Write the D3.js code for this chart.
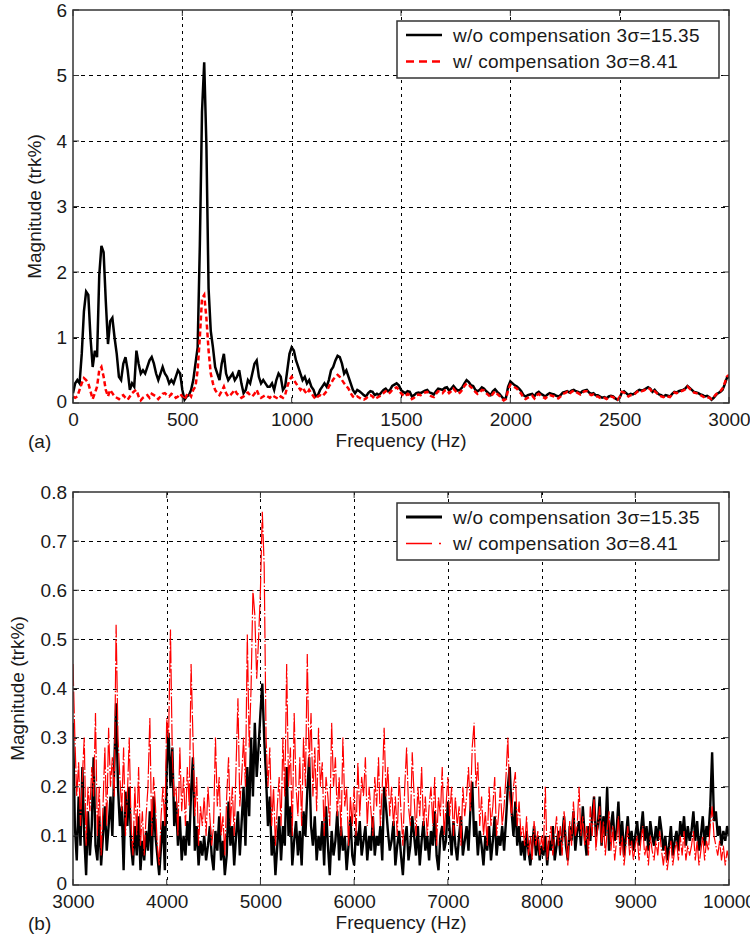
<!DOCTYPE html>
<html><head><meta charset="utf-8">
<script src="https://cdn.jsdelivr.net/npm/d3@7"></script>
<style>
body{margin:0;background:#fff}
text{font-family:Arial,"Liberation Sans",sans-serif;fill:#1a1a1a}
</style>
</head><body>
<svg id="c" width="750" height="941"></svg>
<script>
// ---------- DATA ----------
// Panel (a): 0..3000 Hz, 10 Hz bins
const topStart = 0, topStep = 10;
const topBlack = [
0.15,0.3,0.35,0.3,0.75,1.4,1.7,1.65,1.0,0.55,
0.8,0.7,1.95,2.4,2.3,1.55,0.9,1.25,1.3,1.0,
0.75,0.4,0.35,0.6,0.7,0.5,0.2,0.3,0.25,0.8,
0.6,0.45,0.5,0.45,0.55,0.65,0.7,0.6,0.45,0.35,
0.45,0.55,0.45,0.4,0.3,0.35,0.3,0.4,0.5,0.45,
0.2,0.05,0.1,0.12,0.2,0.35,0.6,0.85,2.4,4.45,
5.2,3.95,1.75,1.1,0.85,0.55,0.45,0.35,0.6,0.75,
0.45,0.35,0.4,0.45,0.35,0.4,0.5,0.3,0.15,0.2,
0.35,0.3,0.45,0.6,0.65,0.4,0.3,0.35,0.3,0.25,
0.25,0.3,0.2,0.35,0.45,0.4,0.2,0.25,0.5,0.75,
0.85,0.8,0.65,0.55,0.45,0.35,0.4,0.3,0.35,0.25,
0.2,0.1,0.12,0.2,0.25,0.3,0.25,0.35,0.5,0.55,
0.65,0.72,0.7,0.6,0.45,0.5,0.4,0.3,0.2,0.15,
0.2,0.18,0.15,0.12,0.1,0.15,0.18,0.17,0.12,0.14,
0.12,0.16,0.2,0.22,0.18,0.2,0.26,0.28,0.3,0.27,
0.2,0.17,0.15,0.18,0.17,0.1,0.12,0.15,0.16,0.15,
0.17,0.19,0.2,0.16,0.15,0.13,0.18,0.22,0.21,0.2,
0.23,0.24,0.19,0.22,0.26,0.22,0.19,0.2,0.24,0.3,
0.35,0.32,0.27,0.26,0.2,0.18,0.2,0.24,0.22,0.18,
0.15,0.12,0.18,0.21,0.17,0.14,0.1,0.06,0.08,0.25,
0.33,0.3,0.27,0.25,0.22,0.18,0.12,0.1,0.12,0.13,
0.14,0.1,0.15,0.17,0.14,0.12,0.1,0.13,0.15,0.14,
0.13,0.11,0.1,0.12,0.16,0.17,0.18,0.16,0.19,0.2,
0.18,0.17,0.15,0.18,0.19,0.2,0.16,0.14,0.15,0.12,
0.12,0.1,0.08,0.09,0.07,0.1,0.11,0.1,0.07,0.05,
0.08,0.16,0.18,0.15,0.12,0.14,0.13,0.15,0.18,0.2,
0.19,0.2,0.22,0.24,0.22,0.17,0.2,0.16,0.13,0.12,
0.1,0.12,0.11,0.1,0.14,0.17,0.16,0.18,0.19,0.2,
0.22,0.26,0.23,0.2,0.17,0.16,0.15,0.13,0.12,0.1,
0.11,0.09,0.05,0.08,0.12,0.15,0.17,0.2,0.28,0.38,
0.4];
const topRed = [
0.1,0.08,0.1,0.2,0.3,0.38,0.35,0.3,0.18,0.06,
0.15,0.25,0.5,0.55,0.4,0.2,0.1,0.2,0.15,0.1,
0.08,0.06,0.1,0.12,0.08,0.05,0.1,0.15,0.18,0.2,
0.1,0.04,0.08,0.1,0.12,0.08,0.14,0.12,0.1,0.06,
0.1,0.14,0.15,0.12,0.1,0.14,0.12,0.08,0.1,0.14,
0.1,0.05,0.12,0.15,0.1,0.2,0.25,0.5,1.0,1.6,
1.65,1.3,0.8,0.45,0.3,0.2,0.15,0.12,0.18,0.25,
0.15,0.1,0.12,0.16,0.2,0.14,0.12,0.08,0.1,0.14,
0.16,0.12,0.1,0.14,0.2,0.12,0.08,0.1,0.12,0.1,
0.08,0.12,0.1,0.08,0.06,0.1,0.08,0.12,0.25,0.35,
0.4,0.35,0.3,0.25,0.2,0.24,0.18,0.14,0.2,0.15,
0.1,0.06,0.1,0.12,0.1,0.14,0.18,0.25,0.3,0.36,
0.4,0.43,0.4,0.35,0.3,0.26,0.22,0.15,0.1,0.08,
0.1,0.08,0.06,0.05,0.07,0.1,0.12,0.1,0.06,0.08,
0.1,0.12,0.15,0.18,0.14,0.16,0.2,0.22,0.24,0.2,
0.15,0.12,0.1,0.14,0.12,0.06,0.08,0.12,0.13,0.12,
0.14,0.16,0.17,0.12,0.1,0.09,0.14,0.18,0.17,0.15,
0.19,0.2,0.15,0.18,0.22,0.18,0.14,0.16,0.2,0.26,
0.3,0.28,0.24,0.22,0.17,0.14,0.16,0.2,0.19,0.15,
0.12,0.09,0.14,0.18,0.14,0.11,0.07,0.04,0.06,0.2,
0.28,0.26,0.24,0.22,0.18,0.14,0.08,0.06,0.08,0.1,
0.11,0.07,0.12,0.14,0.11,0.09,0.07,0.1,0.12,0.11,
0.1,0.08,0.07,0.1,0.14,0.15,0.17,0.14,0.17,0.19,
0.17,0.15,0.13,0.16,0.18,0.18,0.14,0.12,0.13,0.1,
0.1,0.08,0.07,0.08,0.06,0.09,0.1,0.09,0.06,0.05,
0.09,0.17,0.16,0.13,0.1,0.12,0.12,0.14,0.17,0.19,
0.18,0.19,0.21,0.23,0.21,0.16,0.18,0.15,0.12,0.1,
0.09,0.11,0.1,0.09,0.13,0.16,0.15,0.17,0.18,0.19,
0.21,0.25,0.22,0.19,0.16,0.15,0.14,0.12,0.1,0.08,
0.09,0.08,0.06,0.09,0.13,0.16,0.18,0.22,0.3,0.4,
0.43];
const topXTicks = [0,500,1000,1500,2000,2500,3000];
const topYTicks = [0,1,2,3,4,5,6];

// Panel (b): 3000..10000 Hz, 20 Hz bins
const botStart = 3000, botStep = 20;
const botBlack = [
0.33,0.12,0.05,0.18,0.08,0.24,0.1,0.02,0.15,0.06,
0.12,0.26,0.08,0.05,0.14,0.04,0.1,0.16,0.07,0.12,
0.18,0.1,0.24,0.37,0.2,0.12,0.16,0.03,0.19,0.12,
0.2,0.08,0.04,0.12,0.06,0.14,0.03,0.09,0.05,0.11,
0.07,0.15,0.04,0.18,0.1,0.06,0.02,0.08,0.13,0.03,
0.24,0.31,0.2,0.28,0.12,0.17,0.08,0.14,0.05,0.1,
0.06,0.13,0.08,0.19,0.26,0.07,0.12,0.04,0.09,0.06,
0.1,0.05,0.08,0.12,0.06,0.03,0.11,0.07,0.14,0.05,
0.09,0.02,0.06,0.17,0.08,0.12,0.04,0.1,0.15,0.06,
0.13,0.2,0.08,0.24,0.14,0.3,0.18,0.33,0.22,0.28,
0.35,0.41,0.3,0.22,0.12,0.18,0.06,0.1,0.02,0.08,
0.14,0.05,0.12,0.08,0.24,0.1,0.16,0.04,0.09,0.13,
0.06,0.11,0.04,0.15,0.1,0.19,0.26,0.12,0.08,0.14,
0.05,0.1,0.07,0.13,0.04,0.16,0.08,0.02,0.11,0.06,
0.09,0.15,0.05,0.12,0.07,0.1,0.03,0.08,0.14,0.06,
0.04,0.11,0.08,0.13,0.06,0.09,0.12,0.05,0.1,0.07,
0.14,0.06,0.1,0.08,0.12,0.05,0.2,0.16,0.11,0.07,
0.09,0.13,0.04,0.08,0.11,0.06,0.02,0.09,0.12,0.05,
0.08,0.14,0.1,0.06,0.12,0.04,0.09,0.13,0.07,0.1,
0.05,0.11,0.08,0.15,0.06,0.03,0.1,0.12,0.07,0.09,
0.17,0.11,0.06,0.13,0.08,0.05,0.1,0.14,0.06,0.09,
0.12,0.07,0.15,0.21,0.1,0.13,0.06,0.11,0.08,0.04,
0.1,0.07,0.12,0.05,0.09,0.14,0.06,0.1,0.08,0.12,
0.07,0.13,0.2,0.24,0.15,0.1,0.17,0.08,0.12,0.06,
0.09,0.05,0.11,0.07,0.04,0.08,0.12,0.06,0.1,0.05,
0.08,0.06,0.1,0.04,0.09,0.07,0.12,0.05,0.08,0.11,
0.06,0.1,0.14,0.08,0.05,0.12,0.09,0.15,0.07,0.11,
0.13,0.08,0.16,0.1,0.06,0.12,0.09,0.14,0.18,0.1,
0.12,0.18,0.08,0.14,0.1,0.2,0.07,0.12,0.15,0.09,
0.11,0.17,0.08,0.13,0.06,0.1,0.14,0.08,0.11,0.07,
0.1,0.13,0.08,0.11,0.15,0.09,0.12,0.07,0.13,0.1,
0.08,0.12,0.09,0.14,0.11,0.07,0.1,0.05,0.08,0.12,
0.06,0.09,0.11,0.07,0.13,0.1,0.14,0.08,0.12,0.09,
0.11,0.15,0.09,0.13,0.07,0.1,0.14,0.08,0.12,0.1,
0.16,0.27,0.13,0.15,0.1,0.12,0.08,0.11,0.09,0.12,
0.1];
const botRed = [
0.45,0.3,0.18,0.25,0.12,0.22,0.3,0.08,0.2,0.15,
0.24,0.18,0.35,0.1,0.2,0.06,0.16,0.28,0.12,0.32,
0.2,0.26,0.18,0.53,0.3,0.22,0.15,0.28,0.1,0.18,
0.3,0.12,0.06,0.2,0.1,0.24,0.08,0.15,0.06,0.14,
0.2,0.34,0.1,0.22,0.16,0.08,0.04,0.14,0.2,0.12,
0.34,0.3,0.52,0.26,0.18,0.2,0.1,0.28,0.15,0.22,
0.12,0.24,0.16,0.45,0.3,0.14,0.22,0.08,0.16,0.12,
0.18,0.1,0.2,0.14,0.08,0.12,0.3,0.16,0.22,0.1,
0.14,0.06,0.18,0.26,0.12,0.2,0.1,0.24,0.38,0.16,
0.22,0.3,0.2,0.51,0.28,0.4,0.6,0.55,0.42,0.5,
0.6,0.76,0.65,0.3,0.2,0.28,0.12,0.2,0.08,0.16,
0.22,0.12,0.3,0.18,0.45,0.2,0.28,0.1,0.35,0.2,
0.14,0.26,0.12,0.3,0.2,0.47,0.24,0.35,0.18,0.28,
0.15,0.32,0.2,0.25,0.1,0.22,0.18,0.12,0.33,0.2,
0.26,0.14,0.22,0.1,0.3,0.16,0.2,0.08,0.18,0.12,
0.2,0.1,0.25,0.14,0.22,0.18,0.26,0.12,0.2,0.15,
0.1,0.22,0.16,0.26,0.12,0.2,0.32,0.18,0.24,0.14,
0.2,0.12,0.18,0.1,0.22,0.15,0.08,0.2,0.28,0.16,
0.12,0.27,0.18,0.1,0.2,0.14,0.24,0.12,0.18,0.1,
0.16,0.2,0.12,0.22,0.08,0.18,0.14,0.24,0.1,0.16,
0.22,0.14,0.2,0.1,0.18,0.12,0.16,0.08,0.2,0.14,
0.18,0.24,0.15,0.28,0.33,0.2,0.25,0.12,0.18,0.1,
0.15,0.08,0.2,0.12,0.16,0.22,0.1,0.14,0.2,0.12,
0.16,0.22,0.3,0.18,0.14,0.2,0.23,0.12,0.17,0.1,
0.12,0.08,0.14,0.06,0.1,0.05,0.13,0.08,0.11,0.06,
0.1,0.07,0.2,0.05,0.09,0.12,0.06,0.1,0.14,0.08,
0.12,0.06,0.15,0.1,0.04,0.13,0.08,0.17,0.1,0.12,
0.2,0.1,0.14,0.08,0.12,0.06,0.16,0.1,0.18,0.07,
0.12,0.16,0.08,0.13,0.06,0.11,0.15,0.07,0.12,0.05,
0.09,0.14,0.06,0.1,0.04,0.08,0.12,0.06,0.09,0.05,
0.08,0.1,0.05,0.09,0.12,0.06,0.08,0.04,0.1,0.07,
0.05,0.09,0.06,0.11,0.07,0.04,0.08,0.03,0.06,0.09,
0.04,0.07,0.09,0.05,0.1,0.06,0.11,0.05,0.08,0.06,
0.08,0.11,0.05,0.09,0.04,0.07,0.1,0.05,0.09,0.07,
0.12,0.16,0.1,0.08,0.06,0.09,0.05,0.08,0.04,0.07,
0.05];
const botXTicks = [3000,4000,5000,6000,7000,8000,9000,10000];
const botYTicks = [0,0.1,0.2,0.3,0.4,0.5,0.6,0.7,0.8];

const legendLabels = ["w/o compensation 3\u03c3=15.35", "w/ compensation 3\u03c3=8.41"];
const xTitle = "Frequency (Hz)";
const yTitle = "Magnitude (trk%)";

// ---------- DRAW ----------
const svg = d3.select("#c");
const L = 73, R = 729;
const FS = 19;

function toPts(vals, start, step){ return vals.map((v,i)=>({f:start+i*step, v})); }

function panel(o){
  const g = svg.append("g");
  const x = d3.scaleLinear().domain(o.xd).range([L,R]);
  const y = d3.scaleLinear().domain(o.yd).range([o.bottom,o.top]);

  g.append("rect").attr("x",L).attr("y",o.top).attr("width",R-L).attr("height",o.bottom-o.top).attr("fill","#fff");

  // grid
  g.selectAll(".vg").data(o.xt.slice(1,-1)).join("line")
    .attr("x1",d=>Math.round(x(d))+0.5).attr("x2",d=>Math.round(x(d))+0.5)
    .attr("y1",o.top).attr("y2",o.bottom)
    .attr("stroke","#000").attr("stroke-width",1).attr("stroke-dasharray","3,4");
  g.selectAll(".hg").data(o.yt.slice(1,-1)).join("line")
    .attr("x1",L).attr("x2",R)
    .attr("y1",d=>Math.round(y(d))+0.5).attr("y2",d=>Math.round(y(d))+0.5)
    .attr("stroke","#000").attr("stroke-width",1).attr("stroke-dasharray","4,4");

  // clip
  const cid = "clip"+o.id;
  svg.append("clipPath").attr("id",cid).append("rect")
    .attr("x",L).attr("y",o.top).attr("width",R-L).attr("height",o.bottom-o.top);

  const line = d3.line().x(d=>x(d.f)).y(d=>y(d.v));
  o.series.forEach(s=>{
    g.append("path").datum(toPts(s.vals,o.start,o.step))
      .attr("clip-path",`url(#${cid})`)
      .attr("d",line).attr("fill","none")
      .attr("stroke",s.color).attr("stroke-width",s.width)
      .attr("stroke-linejoin","miter")
      .attr("stroke-dasharray",s.dash||null);
  });

  // inner tick marks
  const tl = 6;
  o.xt.forEach(t=>{
    const xx = x(t);
    g.append("line").attr("x1",xx).attr("x2",xx).attr("y1",o.bottom).attr("y2",o.bottom-tl).attr("stroke","#333").attr("stroke-width",1);
    g.append("line").attr("x1",xx).attr("x2",xx).attr("y1",o.top).attr("y2",o.top+tl).attr("stroke","#333").attr("stroke-width",1);
  });
  o.yt.forEach(t=>{
    const yy = y(t);
    g.append("line").attr("x1",L).attr("x2",L+tl).attr("y1",yy).attr("y2",yy).attr("stroke","#333").attr("stroke-width",1);
    g.append("line").attr("x1",R).attr("x2",R-tl).attr("y1",yy).attr("y2",yy).attr("stroke","#333").attr("stroke-width",1);
  });

  // box
  g.append("rect").attr("x",L).attr("y",o.top).attr("width",R-L).attr("height",o.bottom-o.top)
    .attr("fill","none").attr("stroke","#333").attr("stroke-width",1.5);

  // axes labels
  const ax = g.append("g").attr("transform",`translate(0,${o.bottom})`)
    .call(d3.axisBottom(x).tickValues(o.xt).tickSize(0).tickPadding(10).tickFormat(d3.format("d")));
  ax.select(".domain").remove();
  ax.selectAll("text").attr("font-size",FS).attr("font-family","Arial, 'Liberation Sans', sans-serif").attr("fill","#1a1a1a");

  const ay = g.append("g").attr("transform",`translate(${L},0)`)
    .call(d3.axisLeft(y).tickValues(o.yt).tickSize(0).tickPadding(6).tickFormat(o.yfmt));
  ay.select(".domain").remove();
  ay.selectAll("text").attr("font-size",FS).attr("font-family","Arial, 'Liberation Sans', sans-serif").attr("fill","#1a1a1a");
  ay.selectAll(".tick").filter(d=>d===0).select("text").attr("dy","0.22em");

  // titles
  g.append("text").attr("x",(L+R)/2).attr("y",o.bottom+37.5).attr("dy","0.35em")
    .attr("text-anchor","middle").attr("font-size",FS).text(xTitle);
  g.append("text").attr("transform",`translate(${o.ylx},${(o.top+o.bottom)/2}) rotate(-90)`)
    .attr("dy","0.35em").attr("text-anchor","middle").attr("font-size",FS).text(yTitle);
  g.append("text").attr("x",28).attr("y",o.bottom+38.5).attr("dy","0.35em")
    .attr("font-size",FS).text(o.tag);

  // legend
  const lg = g.append("g");
  lg.append("rect").attr("x",397).attr("y",o.top+11).attr("width",322).attr("height",57)
    .attr("fill","#fff").attr("stroke","#333").attr("stroke-width",1.5);
  o.series.forEach((s,i)=>{
    const yy = o.top + 25 + i*26.5;
    lg.append("line").attr("x1",406).attr("x2",442).attr("y1",yy).attr("y2",yy)
      .attr("stroke",s.color).attr("stroke-width",s.lw||s.width)
      .attr("stroke-dasharray",s.ldash||null);
    lg.append("text").attr("x",453).attr("y",yy).attr("dy","0.35em")
      .attr("font-size",FS).attr("letter-spacing","0.3px").text(legendLabels[i]);
  });
}

panel({
  id:"a", tag:"(a)", top:10, bottom:403, xd:[0,3000], yd:[0,6],
  xt:topXTicks, yt:topYTicks, yfmt:d3.format("d"), ylx:34,
  start:topStart, step:topStep,
  series:[
    {vals:topBlack, color:"#000", width:2.5},
    {vals:topRed, color:"#ff0000", width:2.5, dash:"5,3", ldash:"8,5"}
  ]
});
panel({
  id:"b", tag:"(b)", top:492, bottom:885, xd:[3000,10000], yd:[0,0.8],
  xt:botXTicks, yt:botYTicks, yfmt:d=>d===0?"0":d3.format(".1f")(d), ylx:17,
  start:botStart, step:botStep,
  series:[
    {vals:botBlack, color:"#000", width:2.4, lw:3},
    {vals:botRed, color:"#ff0000", width:1.2, dash:"22,2,1.5,2", ldash:"26,7,2,20", lw:1.3}
  ]
});
</script>
</body></html>
